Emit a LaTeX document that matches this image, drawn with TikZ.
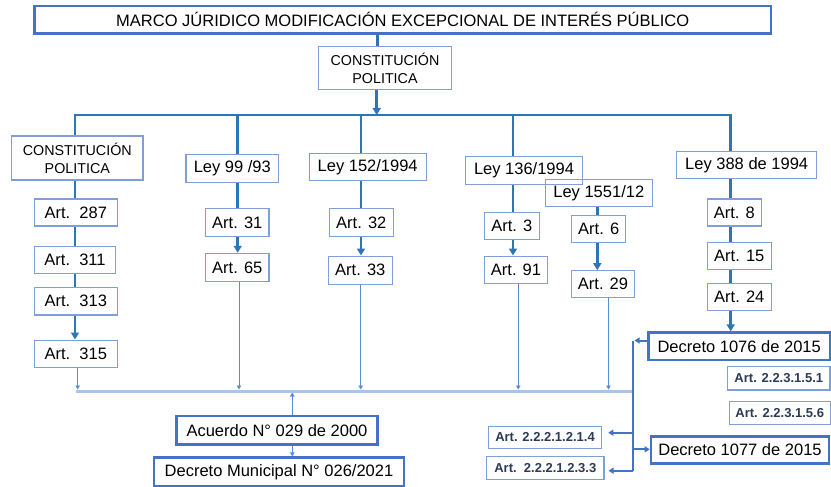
\documentclass[tikz,border=0pt]{standalone}
\usepackage{fontspec}
\setmainfont{Liberation Sans}
\usetikzlibrary{arrows.meta}
\definecolor{thickc}{HTML}{2E75B6}
\definecolor{thinb}{HTML}{7E9FD8}
\definecolor{bigb}{HTML}{4472C4}
\definecolor{thinc}{HTML}{5B8BD6}
\definecolor{busc}{HTML}{A9C6EA}
\definecolor{smallt}{HTML}{2B3A55}
\tikzset{
  box/.style={draw=thinb, line width=1.1pt, inner sep=0pt, align=center,
    font=\fontsize{16.5}{19}\selectfont},
  bigbox/.style={box, draw=bigb, line width=2.6pt},
  cpbox/.style={box, font=\fontsize{14.3}{18}\selectfont},
  smallbox/.style={box, font=\fontsize{13}{15}\selectfont\bfseries, text=smallt},
  thk/.style={draw=thickc, line width=2.7pt},
  thkarr/.style={thk, -{Triangle[width=8pt,length=7pt]}},
  thn/.style={draw=thinc, line width=0.8pt, -{Triangle[width=4.5pt,length=4pt]}},
  busline/.style={draw=busc, line width=3pt},
  brk/.style={draw=bigb, line width=2pt},
  brkarr/.style={brk, -{Triangle[width=6pt,length=5pt]}}
}
\begin{document}
\begin{tikzpicture}[x=1pt,y=-1pt]
\useasboundingbox (0,0) rectangle (831,487);
% title and top
\node[bigbox, minimum width=736.7pt, minimum height=27.3pt] (title) at (402.7,19.7)
  {MARCO JÚRIDICO MODIFICACIÓN EXCEPCIONAL DE INTERÉS PÚBLICO};
\node[cpbox, minimum width=133.4pt, minimum height=43.3pt] (cp) at (385,68.3)
  {CONSTITUCIÓN\\POLITICA};
\coordinate (xt) at (377.3,0);
\draw[thk] (xt |- title.south) -- (xt |- cp.north);
\coordinate (xb) at (376.7,115);
\draw[thkarr] (xb |- cp.south) -- (xb);
% column headers
\node[cpbox, minimum width=131.3pt, minimum height=44pt] (cp2) at (77.3,158) {CONSTITUCIÓN\\POLITICA};
\node[box, minimum width=92.7pt, minimum height=28pt] (ley99) at (232.3,168.3) {Ley 99 /93};
\node[box, minimum width=116.7pt, minimum height=27.4pt] (ley152) at (367.7,167) {Ley 152/1994};
\node[box, minimum width=107pt, minimum height=27.4pt] (ley1551) at (598.8,193) {Ley 1551/12};
\node[box, minimum width=116.6pt, minimum height=27.6pt] (ley136) at (524,170.5) {Ley 136/1994};
\node[box, minimum width=140pt, minimum height=26.6pt] (ley388) at (746.7,165) {Ley 388 de 1994};
% articles
\node[box, minimum width=83pt, minimum height=27pt] (a287) at (75.8,212.5) {Art.\ \ 287};
\node[box, minimum width=81.4pt, minimum height=26.6pt] (a311) at (75,260) {Art.\ \ 311};
\node[box, minimum width=83pt, minimum height=27.3pt] (a313) at (75.8,301.3) {Art.\ \ 313};
\node[box, minimum width=83pt, minimum height=27.3pt] (a315) at (75.8,353.7) {Art.\ \ 315};
\node[box, minimum width=63.3pt, minimum height=28.4pt] (a31) at (237.3,222.5) {Art. 31};
\node[box, minimum width=63.3pt, minimum height=28.4pt] (a65) at (237.3,267.5) {Art. 65};
\node[box, minimum width=64pt, minimum height=28pt] (a32) at (361.3,222.7) {Art. 32};
\node[box, minimum width=64pt, minimum height=28.3pt] (a33) at (360.3,270.2) {Art. 33};
\node[box, minimum width=55pt, minimum height=27pt] (a3) at (511.8,225.8) {Art. 3};
\node[box, minimum width=63.4pt, minimum height=27.3pt] (a91) at (516,269.7) {Art. 91};
\node[box, minimum width=54pt, minimum height=26.6pt] (a6) at (598.7,229) {Art. 6};
\node[box, minimum width=62.6pt, minimum height=26.6pt] (a29) at (603,284) {Art. 29};
\node[box, minimum width=54pt, minimum height=27pt] (a8) at (734.3,212.5) {Art. 8};
\node[box, minimum width=64pt, minimum height=27.3pt] (a15) at (739.3,255.7) {Art. 15};
\node[box, minimum width=64pt, minimum height=26.7pt] (a24) at (739.3,296.7) {Art. 24};
% decretos
\node[bigbox, minimum width=181.7pt, minimum height=27.3pt] (dec1076) at (739.2,346.3) {Decreto 1076 de 2015};
\node[smallbox, minimum width=102.3pt, minimum height=23.3pt] (s51) at (778.8,378.3) {Art. 2.2.3.1.5.1};
\node[smallbox, minimum width=100.7pt, minimum height=22.6pt] (s56) at (779.7,413) {Art. 2.2.3.1.5.6};
\node[bigbox, minimum width=178pt, minimum height=26.6pt] (dec1077) at (740,450) {Decreto 1077 de 2015};
\node[smallbox, minimum width=113.4pt, minimum height=22.3pt] (s214) at (545,437.2) {Art. 2.2.2.1.2.1.4};
\node[smallbox, minimum width=117.3pt, minimum height=23.3pt] (s233) at (545.3,467.7) {Art.\ \ 2.2.2.1.2.3.3};
\node[bigbox, minimum width=200.6pt, minimum height=28.3pt] (acu) at (277,430.2) {Acuerdo N° 029 de 2000};
\node[bigbox, minimum width=250pt, minimum height=28.3pt] (decmun) at (279,471.8) {Decreto Municipal N° 026/2021};
% top bus
\coordinate (b1) at (75,115);
\coordinate (b2) at (237.7,115);
\coordinate (b3) at (361,115);
\coordinate (b4) at (513,115);
\coordinate (b6) at (730.7,115);
\draw[thk] (b1 |- cp2.north) -- (b1) -- (b6) -- (b6 |- ley388.north);
\draw[thk] (b2) -- (b2 |- ley99.north);
\draw[thk] (b3) -- (b3 |- ley152.north);
\draw[thk] (b4) -- (b4 |- ley136.north);
% column 1
\draw[thk] (b1 |- cp2.south) -- (b1 |- a287.north);
\draw[thk] (b1 |- a287.south) -- (b1 |- a311.north);
\draw[thk] (b1 |- a311.south) -- (b1 |- a313.north);
\draw[thkarr] (b1 |- a313.south) -- (b1 |- a315.north);
% column 2
\draw[thk] (b2 |- ley99.south) -- (b2 |- a31.north);
\draw[thkarr] (b2 |- a31.south) -- (b2 |- a65.north);
% column 3
\draw[thk] (b3 |- ley152.south) -- (b3 |- a32.north);
\draw[thkarr] (b3 |- a32.south) -- (b3 |- a33.north);
% column 4
\draw[thk] (b4 |- ley136.south) -- (b4 |- a3.north);
\draw[thkarr] (b4 |- a3.south) -- (b4 |- a91.north);
% column 5
\coordinate (b5) at (597.3,0);
\draw[thk] (b5 |- ley1551.south) -- (b5 |- a6.north);
\draw[thkarr] (b5 |- a6.south) -- (b5 |- a29.north);
% column 6
\draw[thk] (b6 |- ley388.south) -- (b6 |- a8.north);
\draw[thk] (b6 |- a8.south) -- (b6 |- a15.north);
\draw[thk] (b6 |- a15.south) -- (b6 |- a24.north);
\draw[thkarr] (b6 |- a24.south) -- (b6 |- dec1076.north);
% bottom bus
\coordinate (bl) at (76,391);
\coordinate (br) at (632.5,391);
\draw[busline] (bl) -- (br);
\coordinate (t1) at (77.7,389.5);
\coordinate (t2) at (239,389.5);
\coordinate (t3) at (360.7,389.5);
\coordinate (t4) at (518.3,389.5);
\coordinate (t5) at (608.5,389.5);
\draw[thn] (t1 |- a315.south) -- (t1);
\draw[thn] (t2 |- a65.south) -- (t2);
\draw[thn] (t3 |- a33.south) -- (t3);
\draw[thn] (t4 |- a91.south) -- (t4);
\draw[thn] (t5 |- a29.south) -- (t5);
\coordinate (xa) at (292.3,392.5);
\draw[thn] (xa |- acu.north) -- (xa);
\draw[thn] (xa |- acu.south) -- (xa |- decmun.north);
% bracket
\coordinate (k1) at (632.5,340.5);
\coordinate (k2) at (632.5,470.7);
\coordinate (k3) at (632.5,432.7);
\coordinate (k4) at (632.5,449.3);
\draw[brk] (k1) -- (k2);
\draw[brkarr] (dec1076.west |- k1) -- ([xshift=2pt]k1);
\draw[brkarr, shorten >=6pt] (k3) -- (s214.east |- k3);
\draw[brkarr] (k4) -- (dec1077.west |- k4);
\draw[brkarr, shorten >=4pt] (k2) -- (s233.east |- k2);
\end{tikzpicture}
\end{document}
